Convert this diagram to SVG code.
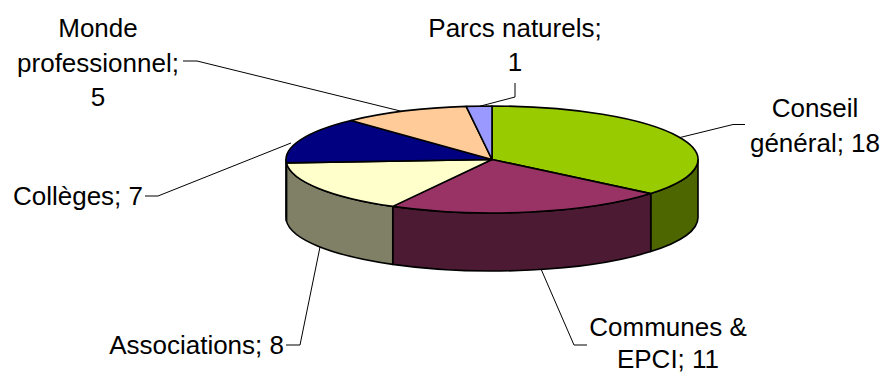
<svg xmlns="http://www.w3.org/2000/svg" width="884" height="374" viewBox="0 0 884 374">
<style>
.lbl{font-family:"Liberation Sans",Arial,sans-serif;font-size:26px;fill:#000}
.m{text-anchor:middle}
.e{text-anchor:end}
.sl{stroke:#000;stroke-width:1.6;stroke-linejoin:round}
.ld{fill:none;stroke:#000;stroke-width:1}
</style>
<rect width="884" height="374" fill="#fff"/>
<g id="sides">
<path id="side-conseil" class="sl" fill="#4d6600" d="M698,159.5 A206,53.5 0 0 1 650.73,193.6 L650.73,251.6 A206,53.5 0 0 0 698,217.5 Z"/>
<path id="side-communes" class="sl" fill="#4d1a33" d="M650.73,193.6 A206,53.5 0 0 1 392.76,206.38 L392.76,264.38 A206,53.5 0 0 0 650.73,251.6 Z"/>
<path id="side-associations" class="sl" fill="#808066" d="M392.76,206.38 A206,53.5 0 0 1 286.41,162.86 L286.41,220.86 A206,53.5 0 0 0 392.76,264.38 Z"/>
<path id="side-colleges" class="sl" fill="#000040" d="M286.41,162.86 A206,53.5 0 0 1 286,159.5 L286,217.5 A206,53.5 0 0 0 286.41,220.86 Z"/>
</g>
<g id="slice-conseil"><path class="sl" fill="#99cc00" d="M492,159.5 L492,106 A206,53.5 0 0 1 650.73,193.6 Z"/></g>
<g id="slice-communes"><path class="sl" fill="#993366" d="M492,159.5 L650.73,193.6 A206,53.5 0 0 1 392.76,206.38 Z"/></g>
<g id="slice-associations"><path class="sl" fill="#ffffcc" d="M492,159.5 L392.76,206.38 A206,53.5 0 0 1 286.41,162.86 Z"/></g>
<g id="slice-colleges"><path class="sl" fill="#000080" d="M492,159.5 L286.41,162.86 A206,53.5 0 0 1 350.98,120.5 Z"/></g>
<g id="slice-monde"><path class="sl" fill="#ffcc99" d="M492,159.5 L350.98,120.5 A206,53.5 0 0 1 466.18,106.42 Z"/></g>
<g id="slice-parcs"><path class="sl" fill="#9999ff" d="M492,159.5 L466.18,106.42 A206,53.5 0 0 1 492,106 Z"/></g>
<g id="connectors">
<polyline class="ld" points="183,61 197,61 402,111.4"/>
<polyline class="ld" points="515,83 515,97 480,106.2"/>
<polyline class="ld" points="745,124.5 733,124.5 680,137.5"/>
<polyline class="ld" points="145,196 158,196 291,143"/>
<polyline class="ld" points="286,345 300,345 320,247"/>
<polyline class="ld" points="541,269 574,345 587,345"/>
</g>
<g id="label-monde"><text class="lbl m" x="98" y="37">Monde</text><text class="lbl m" x="98" y="71.5">professionnel;</text><text class="lbl m" x="98" y="106">5</text></g>
<g id="label-parcs"><text class="lbl m" x="515" y="37">Parcs naturels;</text><text class="lbl m" x="515" y="71">1</text></g>
<g id="label-conseil"><text class="lbl m" x="815" y="117">Conseil</text><text class="lbl m" x="815" y="151.5">général; 18</text></g>
<g id="label-colleges"><text class="lbl e" x="143" y="205">Collèges; 7</text></g>
<g id="label-associations"><text class="lbl e" x="284" y="353.5">Associations; 8</text></g>
<g id="label-communes"><text class="lbl m" x="668" y="336">Communes &amp;</text><text class="lbl m" x="668" y="368">EPCI; 11</text></g>
</svg>
